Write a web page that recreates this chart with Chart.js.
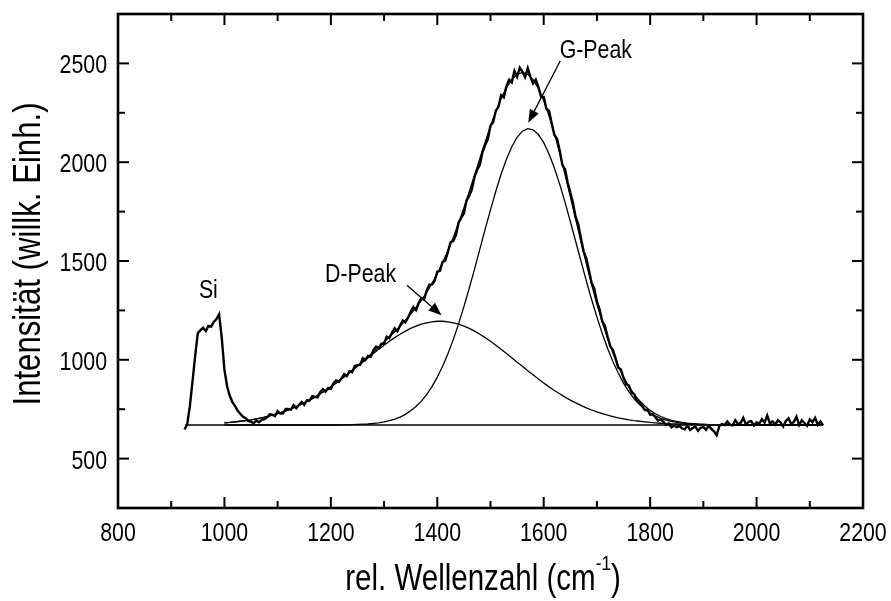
<!DOCTYPE html>
<html>
<head>
<meta charset="utf-8">
<script src="https://cdn.jsdelivr.net/npm/chart.js@4/dist/chart.umd.min.js"></script>
<style>
  html, body { margin: 0; padding: 0; background: #fff; }
  #wrap { width: 891px; height: 601px; }
</style>
</head>
<body>
<div id="wrap"><canvas id="raman"></canvas></div>
<script>
// measured Raman spectrum, 925 ... 2125 cm-1 in steps of 5
const measuredStart = 925;
const measuredStep = 5;
const measuredIntensity = [
  // 925 - 1080 (Si)
  648, 672, 765, 890, 1020, 1135, 1150, 1162, 1145, 1172, 1168, 1192, 1206, 1230, 1110, 950,
  866, 818, 786, 766, 742, 726, 712, 704, 690, 686, 680, 692, 684, 696, 700, 708,
  // 1085 - 1300
  724, 722, 715, 740, 728, 729, 751, 751, 748, 771, 755, 771, 786, 772, 795, 794,
  816, 812, 810, 836, 851, 839, 857, 852, 882, 895, 888, 906, 928, 917, 942, 937,
  969, 973, 974, 1008, 999, 1020, 1015, 1049, 1067, 1058, 1081, 1081,
  // 1305 - 1500
  1117, 1110, 1138, 1160, 1144, 1172, 1199, 1190, 1213, 1243, 1267, 1251, 1287, 1311, 1305, 1349,
  1380, 1381, 1399, 1446, 1450, 1496, 1502, 1546, 1595, 1601, 1631, 1694, 1718, 1741, 1806, 1829,
  1862, 1926, 1962, 1987, 2051, 2087, 2117, 2185,
  // 1505 - 1650
  2202, 2261, 2280, 2339, 2328, 2385, 2418, 2404, 2462, 2432, 2478, 2458, 2430, 2476, 2432, 2398,
  2418, 2381, 2331, 2330, 2270, 2259, 2197, 2138, 2119, 2059, 1987, 1965, 1897, 1846,
  // 1655 - 1850
  1793, 1722, 1685, 1614, 1549, 1513, 1454, 1389, 1360, 1294, 1255, 1195, 1172, 1118, 1069, 1050,
  1008, 961, 951, 909, 877, 869, 835, 827, 793, 787, 766, 746, 747, 722, 724, 709,
  692, 699, 686, 670, 678, 658, 667, 658,
  // 1855 - 2125
  666, 652, 648, 668, 645, 655, 662, 641, 656, 660, 646, 667, 650, 638, 618, 664,
  676, 670, 688, 672, 668, 694, 676, 680, 706, 672, 686, 690, 668, 684, 676, 700,
  682, 718, 678, 688, 672, 694, 684, 662, 690, 704, 676, 686, 712, 670, 694, 680,
  666, 698, 684, 706, 672, 688, 668
];

// fitted components, 1000 ... 2120 cm-1 in steps of 10
const fitStart = 1000;
const fitStep = 10;
const dPeakFit = [
  681, 683, 686, 689, 692, 696, 701, 706, 713, 720,
  728, 736, 746, 757, 769, 782, 796, 811, 828, 845,
  863, 883, 903, 924, 945, 967, 988, 1010, 1032, 1053,
  1074, 1094, 1112, 1129, 1145, 1159, 1170, 1180, 1187, 1192,
  1195, 1195, 1192, 1187, 1180, 1170, 1159, 1145, 1129, 1112,
  1094, 1074, 1053, 1032, 1010, 988, 967, 945, 924, 903,
  883, 863, 845, 828, 811, 796, 782, 769, 757, 746,
  736, 728, 720, 713, 706, 701, 696, 692, 689, 686,
  683, 681, 679, 677, 676, 675, 674, 673, 673, 672,
  672, 671, 671, 671, 670, 670, 670, 670, 670, 670,
  670, 670, 670, 670, 670, 670, 670, 670, 670, 670,
  670, 670, 670
];
const gPeakFit = [
  670, 670, 670, 670, 670, 670, 670, 670, 670, 670,
  670, 670, 670, 670, 670, 670, 670, 670, 670, 670,
  670, 670, 671, 671, 672, 673, 674, 675, 678, 681,
  686, 692, 700, 710, 724, 742, 764, 791, 824, 864,
  912, 967, 1030, 1102, 1182, 1269, 1362, 1459, 1560, 1661,
  1759, 1853, 1940, 2015, 2078, 2126, 2157, 2170, 2164, 2140,
  2099, 2042, 1971, 1889, 1798, 1700, 1600, 1499, 1400, 1305,
  1216, 1133, 1058, 991, 933, 882, 839, 803, 774, 750,
  731, 716, 704, 695, 688, 683, 679, 676, 674, 673,
  672, 671, 671, 670, 670, 670, 670, 670, 670, 670,
  670, 670, 670, 670, 670, 670, 670, 670, 670, 670,
  670, 670, 670
];
const sumFit = [
  681, 683, 686, 689, 692, 696, 701, 706, 713, 720,
  728, 736, 746, 757, 769, 782, 796, 811, 828, 845,
  863, 883, 904, 925, 947, 970, 992, 1015, 1040, 1064,
  1090, 1116, 1142, 1169, 1199, 1231, 1264, 1301, 1341, 1386,
  1437, 1492, 1552, 1619, 1692, 1769, 1851, 1934, 2019, 2103,
  2183, 2257, 2323, 2377, 2418, 2444, 2454, 2445, 2418, 2373,
  2312, 2235, 2146, 2047, 1939, 1826, 1712, 1598, 1487, 1381,
  1282, 1191, 1108, 1034, 969, 913, 865, 825, 793, 766,
  744, 727, 713, 702, 694, 688, 683, 679, 677, 675,
  674, 672, 672, 671, 670, 670, 670, 670, 670, 670,
  670, 670, 670, 670, 670, 670, 670, 670, 670, 670,
  670, 670, 670
];
const baselineX = [926, 2125];
const baselineY = [670, 670];

// axes
const xMajorTicks = [800, 1000, 1200, 1400, 1600, 1800, 2000, 2200];
const xMinorTicks = [900, 1100, 1300, 1500, 1700, 1900, 2100];
const yMajorTicks = [500, 1000, 1500, 2000, 2500];
const yMinorTicks = [750, 1250, 1750, 2250];

// labels (left end of baseline) and arrows, in data units
const peakLabels = [
  { text: "Si", x: 952, y: 1312 },
  { text: "D-Peak", x: 1189, y: 1393 },
  { text: "G-Peak", x: 1630, y: 2527 }
];
const peakArrows = [
  { from: [1343, 1377], to: [1408, 1226] },
  { from: [1631, 2512], to: [1571, 2200] }
];

// Arial Narrow look: Liberation Sans squeezed horizontally
const FONT = "'Liberation Sans', Arial, sans-serif";
const NARROW = 0.82;

function toPoints(start, step, values) {
  return values.map((v, i) => ({ x: start + i * step, y: v }));
}

function lineSet(data, width) {
  return {
    data,
    borderColor: "#000",
    borderWidth: width,
    pointRadius: 0,
    showLine: true,
    fill: false,
    tension: 0,
  };
}

function narrowText(ctx, text, x, y, size, align, baseline) {
  ctx.save();
  ctx.font = size + "px " + FONT;
  ctx.textAlign = align;
  ctx.textBaseline = baseline;
  ctx.translate(x, y);
  ctx.scale(NARROW, 1);
  ctx.fillText(text, 0, 0);
  ctx.restore();
}

function narrowWidth(ctx, text, size) {
  ctx.save();
  ctx.font = size + "px " + FONT;
  const w = ctx.measureText(text).width * NARROW;
  ctx.restore();
  return w;
}

const annotations = {
  id: "annotations",
  afterDraw(chart) {
    const { ctx, chartArea: a, scales: { x, y } } = chart;
    ctx.save();
    ctx.strokeStyle = "#000";
    ctx.fillStyle = "#000";

    // inward ticks on all four sides
    ctx.lineWidth = 2;
    const tick = (px, py, dx, dy) => {
      ctx.beginPath();
      ctx.moveTo(px, py);
      ctx.lineTo(px + dx, py + dy);
      ctx.stroke();
    };
    xMajorTicks.forEach((v) => {
      const px = x.getPixelForValue(v);
      tick(px, a.bottom, 0, -11);
      tick(px, a.top, 0, 11);
      narrowText(ctx, String(v), px, a.bottom + 33, 26, "center", "alphabetic");
    });
    xMinorTicks.forEach((v) => {
      const px = x.getPixelForValue(v);
      tick(px, a.bottom, 0, -7);
      tick(px, a.top, 0, 7);
    });
    yMajorTicks.forEach((v) => {
      const py = y.getPixelForValue(v);
      tick(a.left, py, 11, 0);
      tick(a.right, py, -11, 0);
      narrowText(ctx, String(v), a.left - 11, py + 10, 26, "right", "alphabetic");
    });
    yMinorTicks.forEach((v) => {
      const py = y.getPixelForValue(v);
      tick(a.left, py, 7, 0);
      tick(a.right, py, -7, 0);
    });

    // frame
    ctx.lineWidth = 2.6;
    ctx.strokeRect(a.left, a.top, a.right - a.left, a.bottom - a.top);

    // peak labels
    peakLabels.forEach((l) => {
      narrowText(ctx, l.text, x.getPixelForValue(l.x), y.getPixelForValue(l.y), 26, "left", "alphabetic");
    });

    // arrows
    ctx.lineWidth = 1.3;
    peakArrows.forEach((ar) => {
      const x1 = x.getPixelForValue(ar.from[0]);
      const y1 = y.getPixelForValue(ar.from[1]);
      const x2 = x.getPixelForValue(ar.to[0]);
      const y2 = y.getPixelForValue(ar.to[1]);
      const ang = Math.atan2(y2 - y1, x2 - x1);
      const head = 13;
      const bx = x2 - head * Math.cos(ang);
      const by = y2 - head * Math.sin(ang);
      ctx.beginPath();
      ctx.moveTo(x1, y1);
      ctx.lineTo(bx, by);
      ctx.stroke();
      ctx.beginPath();
      ctx.moveTo(x2, y2);
      ctx.lineTo(bx + 5 * Math.sin(ang), by - 5 * Math.cos(ang));
      ctx.lineTo(bx - 5 * Math.sin(ang), by + 5 * Math.cos(ang));
      ctx.closePath();
      ctx.fill();
    });

    // x axis title with superscript
    const size = 36;
    const supSize = 21;
    const main = "rel. Wellenzahl (cm";
    const sup = "-1";
    const wMain = narrowWidth(ctx, main, size);
    const wSup = narrowWidth(ctx, sup, supSize);
    const wClose = narrowWidth(ctx, ")", size);
    let tx = 483 - (wMain + wSup + wClose) / 2;
    const ty = 590;
    narrowText(ctx, main, tx, ty, size, "left", "alphabetic");
    tx += wMain;
    narrowText(ctx, sup, tx, ty - 20, supSize, "left", "alphabetic");
    tx += wSup;
    narrowText(ctx, ")", tx, ty, size, "left", "alphabetic");

    // y axis title
    ctx.save();
    ctx.translate(30, 254);
    ctx.rotate(-Math.PI / 2);
    narrowText(ctx, "Intensität (willk. Einh.)", 0, 0, 38, "center", "middle");
    ctx.restore();

    ctx.restore();
  },
};

new Chart(document.getElementById("raman"), {
  type: "scatter",
  data: {
    datasets: [
      lineSet(baselineX.map((v, i) => ({ x: v, y: baselineY[i] })), 1.3),
      lineSet(toPoints(fitStart, fitStep, dPeakFit), 1.3),
      lineSet(toPoints(fitStart, fitStep, gPeakFit), 1.3),
      lineSet(toPoints(fitStart, fitStep, sumFit), 1.3),
      lineSet(toPoints(measuredStart, measuredStep, measuredIntensity), 2.4),
    ],
  },
  options: {
    responsive: true,
    maintainAspectRatio: false,
    animation: false,
    layout: { padding: { top: 14, right: 28, left: 0, bottom: 0 } },
    plugins: { legend: { display: false }, tooltip: { enabled: false } },
    scales: {
      x: {
        type: "linear",
        min: 800,
        max: 2200,
        grid: { display: false, drawTicks: false },
        border: { display: false },
        ticks: { display: false },
        afterFit: (s) => { s.height = 93; },
      },
      y: {
        type: "linear",
        min: 250,
        max: 2750,
        grid: { display: false, drawTicks: false },
        border: { display: false },
        ticks: { display: false },
        afterFit: (s) => { s.width = 118; },
      },
    },
  },
  plugins: [annotations],
});
</script>
</body>
</html>
